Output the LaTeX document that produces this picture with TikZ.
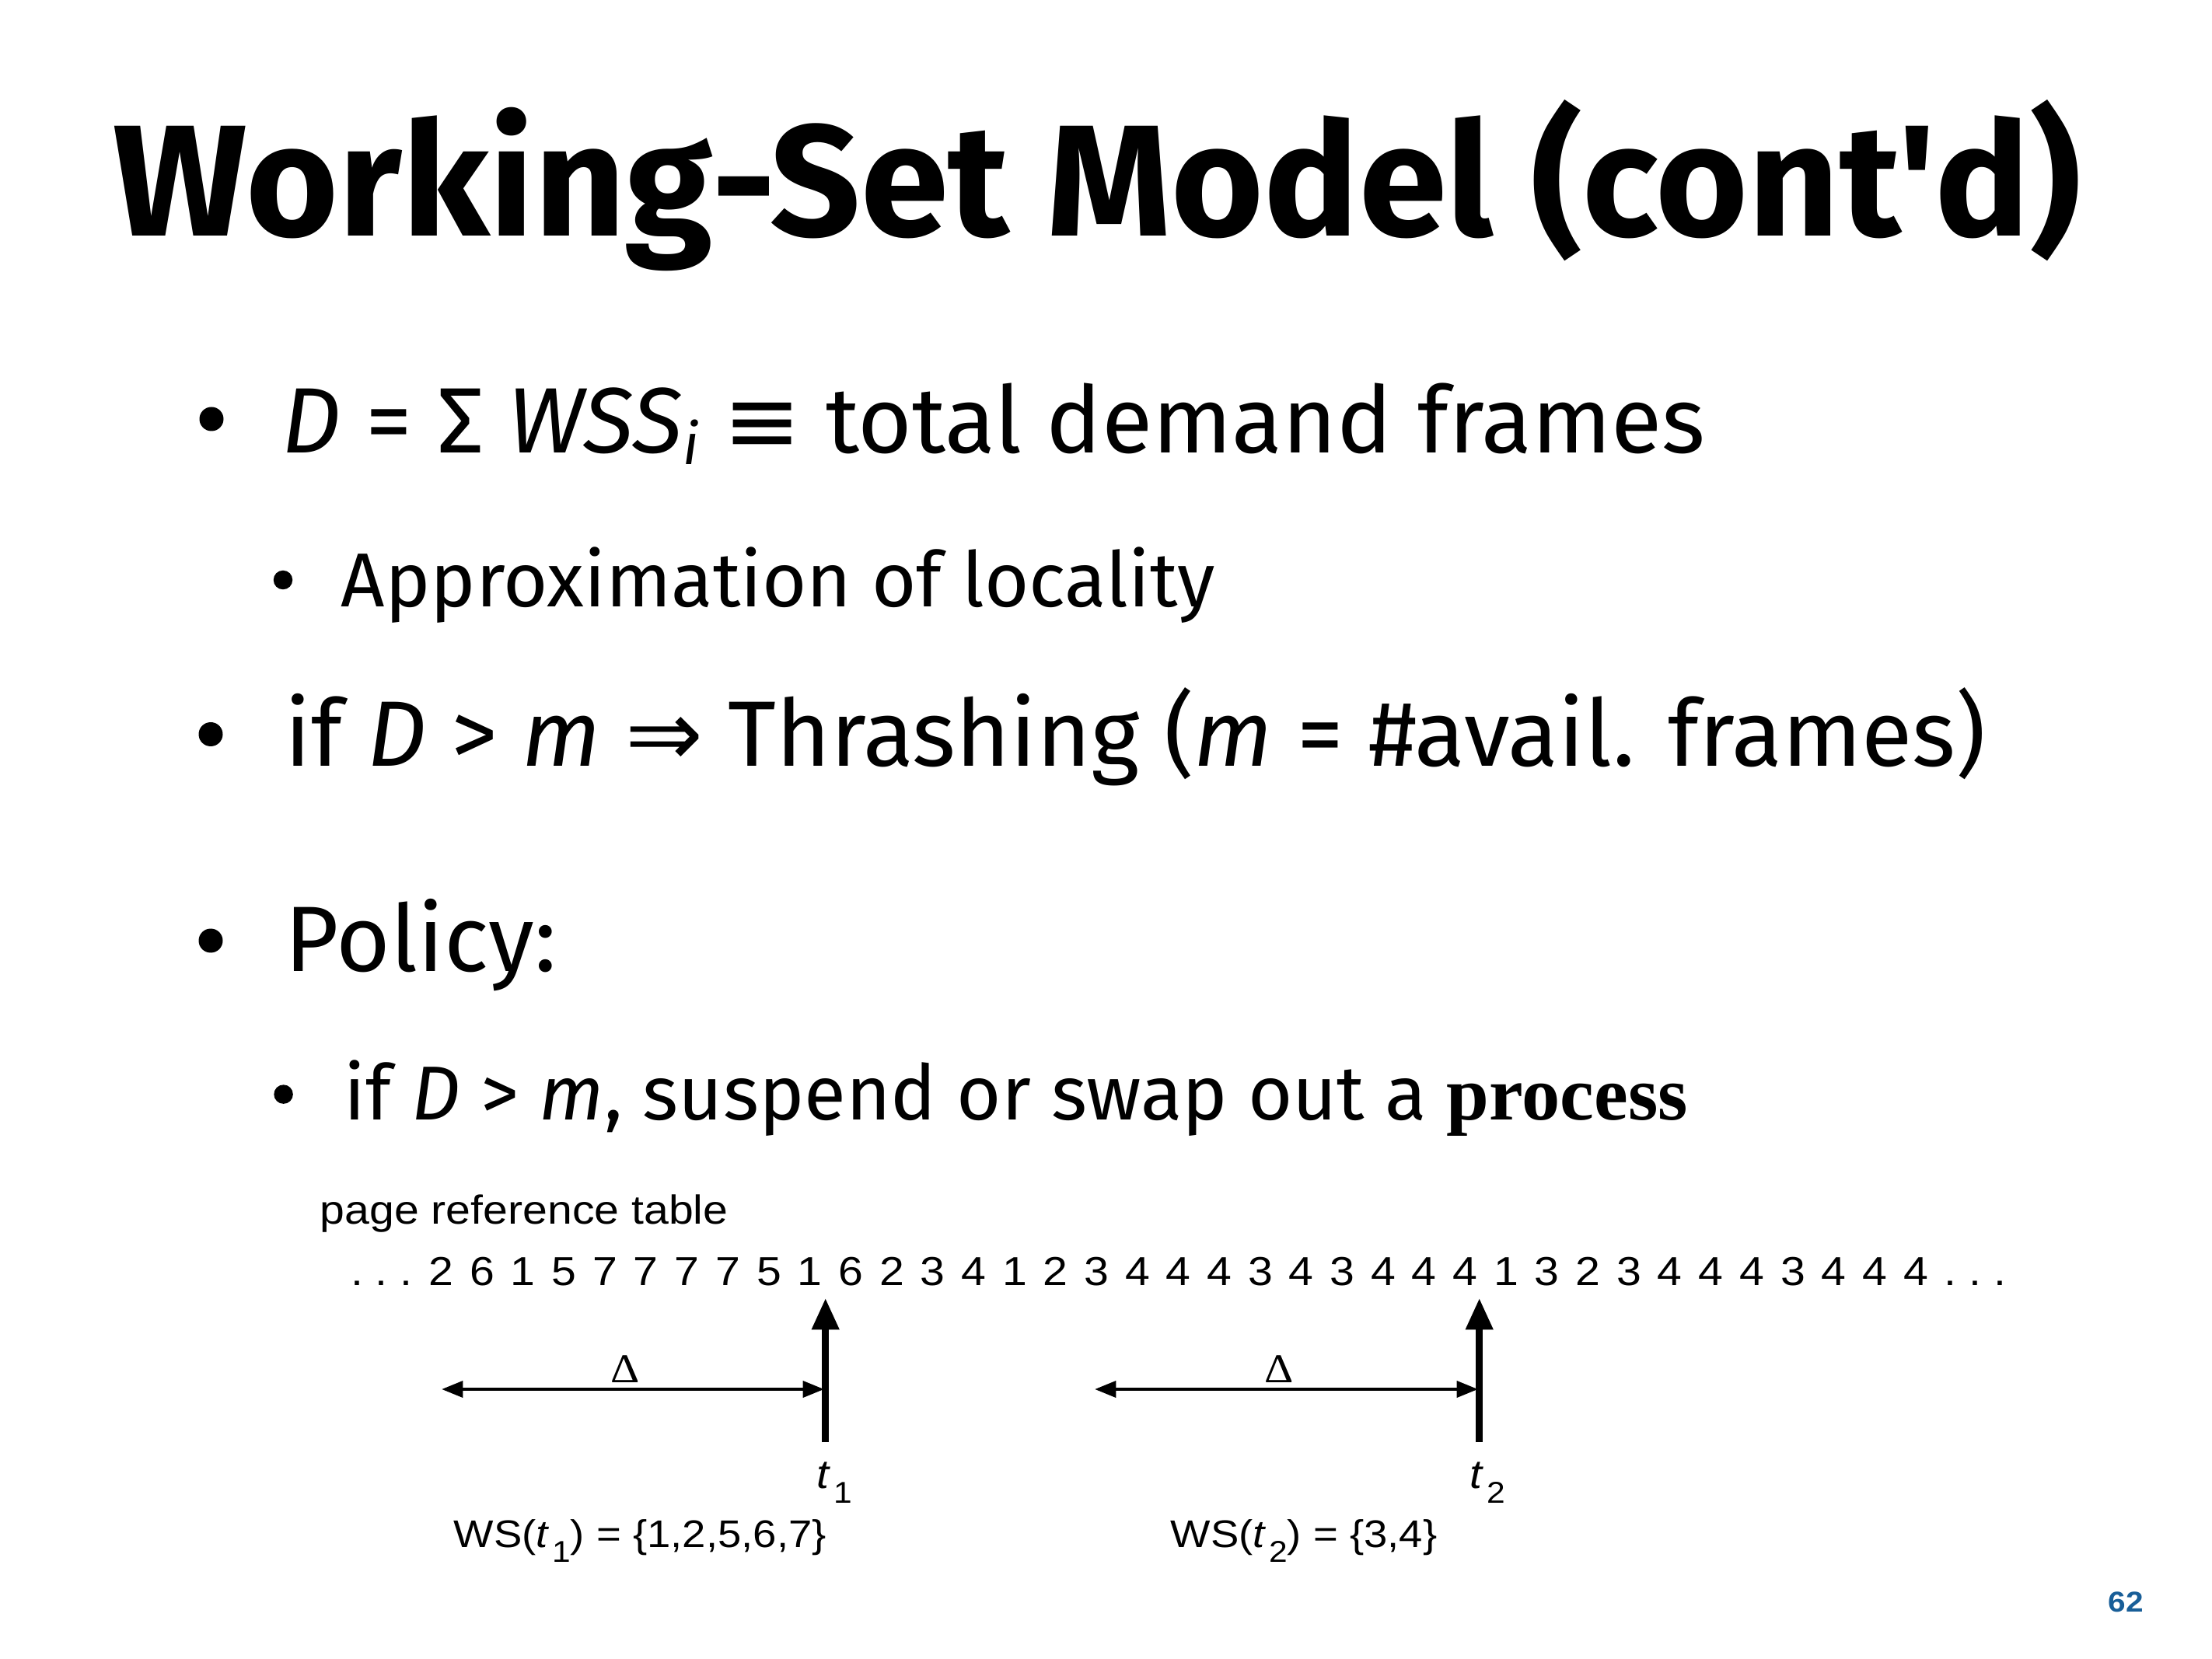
\documentclass[tikz,border=0pt]{standalone}
\usepackage{fontspec}
\setmainfont{Fira Sans}
\newfontfamily\titlefont{Fira Sans}
\newfontfamily\figfont{Liberation Sans}[FakeStretch=1.1]
\newfontfamily\greekfont{Liberation Serif}[FakeStretch=1.1]
\newfontfamily\symfont{DejaVu Sans}
\newfontfamily\procfont{Liberation Serif}
\usepackage{tikz}
\usetikzlibrary{arrows.meta, positioning, calc}
\definecolor{pagenum}{RGB}{24,94,152}
\newcommand{\lowsub}[1]{\hspace{1pt}\raisebox{-5.6pt}{\fontsize{11}{11}\selectfont #1}}
\tikzstyle{headline} = [anchor=base west, inner sep=0pt, font=\titlefont\bfseries\fontsize{58}{64}\selectfont]
\tikzstyle{bigdot} = [circle, fill=black, inner sep=0pt, minimum size=3.1mm]
\tikzstyle{smalldot} = [circle, fill=black, inner sep=0pt, minimum size=2.45mm]
\tikzstyle{body} = [anchor=base west, inner sep=0pt, font=\fontsize{34}{40}\selectfont]
\tikzstyle{subbody} = [anchor=base west, inner sep=0pt, font=\fontsize{28}{34}\selectfont]
\tikzstyle{fig} = [inner sep=0pt, font=\figfont\fontsize{14.8}{17}\selectfont]
\tikzstyle{wslabel} = [anchor=base west, inner sep=0pt, font=\figfont\fontsize{14.1}{17}\selectfont]
\tikzstyle{delta} = [pos=0.48, anchor=base, yshift=2.3pt, inner sep=0pt, font=\greekfont\fontsize{15}{17}\selectfont]
\tikzstyle{timearrow} = [line width=2.4pt, -{Triangle[length=11.5pt, width=9.6pt]}]
\tikzstyle{window} = [line width=1.3pt, {Triangle[length=7.8pt, width=5.9pt]}-{Triangle[length=7.8pt, width=5.9pt]}]

\begin{document}
\begin{tikzpicture}
	
	\fill[white] (0,0) rectangle (28.45,-21.34);
	
	% Slide text
	\node (head) [headline] at (1.45,-3.04) {Working-Set Model (cont'd)};
	
	\node (dot1) [bigdot] at (2.72,-5.39) {};
	\node (demand) [body] at (3.62,-5.83) {{\itshape D} = Σ {\itshape WSS}\raisebox{-4pt}{\fontsize{21}{21}\selectfont\itshape i} {\symfont ≡} total demand frames};
	\node (dot2) [smalldot] at (3.64,-7.46) {};
	\node (approx) [subbody] at (4.38,-7.81) {Approximation of locality};
	\node (dot3) [bigdot] at (2.71,-9.445) {};
	\node (thrash) [body] at (3.66,-9.86) {if {\itshape D} > {\itshape m} {\symfont ⇒} Thrashing ({\itshape m} = \#avail. frames)};
	\node (dot4) [bigdot] at (2.71,-12.10) {};
	\node (policy) [body] at (3.66,-12.50) {Policy:};
	\node (dot5) [smalldot] at (3.646,-14.076) {};
	\node (swap) [subbody] at (4.42,-14.408) {if {\itshape D} > {\itshape m}, suspend or swap out a {\procfont\bfseries process}};
	
	% Page references
	\node (table) [fig, anchor=base west] at (4.11,-15.74) {page reference table};
	\foreach \v [count=\i] in {2,6,1,5,7,7,7,7,5,1,6,2,3,4,1,2,3,4,4,4,3,4,3,4,4,4,1,3,2,3,4,4,4,3,4,4,4}
		\node (d\i) [fig, anchor=base] at ({5.675+(\i-1)*0.5268},-16.53) {\v};
	\node (dotsl) [fig, anchor=base east, xshift=-5.6pt] at (d1.base west) {.\ .\ .};
	\node (dotsr) [fig, anchor=base west, xshift=5.6pt] at (d37.base east) {.\ .\ .};
	
	% Time points
	\coordinate (t1) at (10.617,-18.55);
	\coordinate (t1top) at (10.617,-16.70);
	\coordinate (t2) at (19.027,-18.55);
	\coordinate (t2top) at (19.027,-16.70);
	\coordinate (w1) at (5.68,-17.87);
	\coordinate (w1end) at (10.60,-17.87);
	\coordinate (w2) at (14.08,-17.87);
	\coordinate (w2end) at (19.01,-17.87);
	
	% Arrows
	\draw [timearrow] (t1) -- (t1top);
	\draw [timearrow] (t2) -- (t2top);
	\draw [window] (w1) -- node[delta] (delta1) {Δ} (w1end);
	\draw [window] (w2) -- node[delta] (delta2) {Δ} (w2end);
	
	% Labels
	\node (t1lab) [fig, anchor=base west] at (10.50,-19.14) {\textit{t}\lowsub{1}};
	\node (t2lab) [fig, anchor=base west] at (18.90,-19.14) {\textit{t}\lowsub{2}};
	\node (ws1) [wslabel] at (5.83,-19.90) {WS(\textit{t}\lowsub{1}) = \{1,2,5,6,7\}};
	\node (ws2) [wslabel] at (15.05,-19.90) {WS(\textit{t}\lowsub{2}) = \{3,4\}};
	
	\node (page) [anchor=base west, inner sep=0pt, text=pagenum, font=\figfont\bfseries\fontsize{10.5}{12}\selectfont] at (27.11,-20.73) {62};
	
\end{tikzpicture}
\end{document}
